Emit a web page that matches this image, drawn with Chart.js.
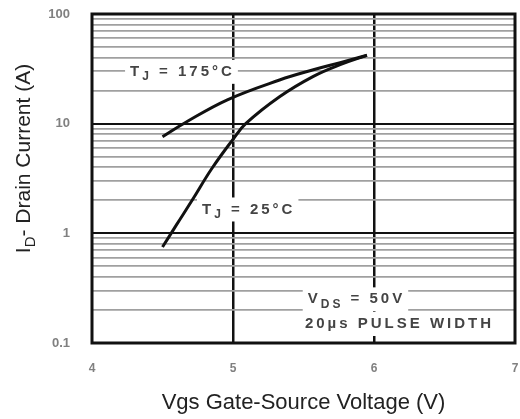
<!DOCTYPE html>
<html>
<head>
<meta charset="utf-8">
<script src="https://cdn.jsdelivr.net/npm/chart.js@4"></script>
<style>
  html, body { margin: 0; padding: 0; background: #fff; }
</style>
</head>
<body>
<canvas id="myChart" width="520" height="419"></canvas>
<script>
// Id vs Vgs
var vgs175 = [4.5, 4.66, 4.96, 5.33, 5.57, 5.76, 5.95],
    id175 = [7.6, 10.2, 16.5, 25, 31, 36, 42];
var vgs25 = [4.5, 4.6, 4.71, 4.85, 5.0, 5.09, 5.33, 5.57, 5.76, 5.95],
    id25 = [0.75, 1.2, 2.0, 3.9, 7.2, 10, 17.6, 27, 34.5, 42];

var xTicks = [4, 5, 6, 7],
    yTicks = [0.1, 1, 10, 100],
    yGrid = [0.1, 0.2, 0.3, 0.4, 0.5, 0.6, 0.7, 0.8, 0.9,
             1, 2, 3, 4, 5, 6, 7, 8, 9,
             10, 20, 30, 40, 50, 60, 70, 80, 90, 100];

const FONT = '"Liberation Sans", Arial, sans-serif';

// text labels inside the plot: [x, y] in data units
var notes = [
    { at: [4.27, 29.7], parts: [['T'], ['J', 1], [' = 175°C']] },
    { at: [4.78, 1.65], parts: [['T'], ['J', 1], [' = 25°C']] },
    { at: [5.53, 0.25], parts: [['V'], ['DS', 1], [' = 50V']] },
    { at: [5.51, 0.149], parts: [['20µs PULSE WIDTH']] }
];

function pts(xs, ys) {
    return xs.map((x, i) => ({ x: x, y: ys[i] }));
}

function drawParts(ctx, parts, x, y, size, doDraw) {
    var cx = x;
    parts.forEach(p => {
        var sub = p[1] == 1,
            fs = sub ? Math.round(size * 0.8) : size;
        ctx.font = 'bold ' + fs + 'px ' + FONT;
        if (doDraw) ctx.fillText(p[0], cx, y + (sub ? size * 0.35 : 0));
        cx += ctx.measureText(p[0]).width;
    });
    return cx - x;
}

function noPad(s) {
    s.paddingTop = 0;
    s.paddingBottom = 0;
    s.paddingLeft = 0;
    s.paddingRight = 0;
}

const notesPlugin = {
    id: 'notes',
    beforeDatasetsDraw(chart) {
        var ctx = chart.ctx, sx = chart.scales.x, sy = chart.scales.y;
        ctx.save();
        ctx.letterSpacing = '3px';
        ctx.textBaseline = 'middle';
        ctx.textAlign = 'left';
        notes.forEach(n => {
            var px = sx.getPixelForValue(n.at[0]),
                py = sy.getPixelForValue(n.at[1]);
            var w = drawParts(ctx, n.parts, px, py, 15, false);
            ctx.fillStyle = '#fff';
            ctx.fillRect(px - 5, py - 12, w + 8, 24);
        });
        ctx.fillStyle = '#444';
        notes.forEach(n => {
            var px = sx.getPixelForValue(n.at[0]),
                py = sy.getPixelForValue(n.at[1]);
            drawParts(ctx, n.parts, px, py, 15, true);
        });
        ctx.restore();
    },
    afterDraw(chart) {
        var ctx = chart.ctx, a = chart.chartArea;
        ctx.save();
        // frame
        ctx.strokeStyle = '#111';
        ctx.lineWidth = 3;
        ctx.strokeRect(a.left, a.top, a.right - a.left, a.bottom - a.top);
        // y title with subscript
        ctx.translate(30, (a.top + a.bottom) / 2 - 20);
        ctx.rotate(-Math.PI / 2);
        ctx.fillStyle = '#222';
        ctx.textBaseline = 'alphabetic';
        var parts = [['I', 0, 21], ['D', 5, 15], ['- Drain Current (A)', 0, 21]];
        var total = 0;
        parts.forEach(p => { ctx.font = p[2] + 'px ' + FONT; total += ctx.measureText(p[0]).width; });
        var cx = -total / 2;
        parts.forEach(p => {
            ctx.font = p[2] + 'px ' + FONT;
            ctx.fillText(p[0], cx, p[1]);
            cx += ctx.measureText(p[0]).width;
        });
        ctx.restore();
    }
};

var ctx = document.getElementById('myChart').getContext('2d');
var myChart = new Chart(ctx, {
    type: 'line',
    data: {
        datasets: [{
            label: 'TJ = 175°C',
            data: pts(vgs175, id175),
            borderColor: '#111',
            borderWidth: 3,
            pointRadius: 0,
            tension: 0.4
        }, {
            label: 'TJ = 25°C',
            data: pts(vgs25, id25),
            borderColor: '#111',
            borderWidth: 3,
            pointRadius: 0,
            tension: 0.4
        }]
    },
    options: {
        responsive: false,
        animation: false,
        layout: { padding: { top: 14, right: 5, left: 0, bottom: 0 } },
        plugins: {
            legend: { display: false },
            tooltip: { enabled: false }
        },
        scales: {
            x: {
                type: 'linear',
                min: 4,
                max: 7,
                afterFit: s => { s.height = 76; noPad(s); },
                afterBuildTicks: s => { s.ticks = xTicks.map(v => ({ value: v })); },
                border: { display: false },
                grid: {
                    drawTicks: false,
                    color: c => (c.tick && (c.tick.value == 5 || c.tick.value == 6)) ? '#111' : 'rgba(0,0,0,0)',
                    lineWidth: 2.5
                },
                ticks: {
                    padding: 18,
                    color: '#808080',
                    font: { family: FONT, size: 12, weight: 'bold' }
                },
                title: {
                    display: true,
                    text: 'Vgs Gate-Source Voltage (V)',
                    color: '#222',
                    font: { family: FONT, size: 22 },
                    padding: { top: 0, bottom: 3 }
                }
            },
            y: {
                type: 'logarithmic',
                min: 0.1,
                max: 100,
                afterFit: s => { s.width = 92; noPad(s); },
                afterBuildTicks: s => { s.ticks = yGrid.map(v => ({ value: v })); },
                border: { display: false },
                grid: {
                    drawTicks: false,
                    color: c => (c.tick && yTicks.indexOf(c.tick.value) >= 0) ? '#111' : '#a0a0a0',
                    lineWidth: c => (c.tick && yTicks.indexOf(c.tick.value) >= 0) ? 2 : 1.8
                },
                ticks: {
                    padding: 22,
                    color: '#808080',
                    autoSkip: false,
                    font: { family: FONT, size: 13, weight: 'bold' },
                    callback: v => yTicks.indexOf(v) >= 0 ? String(v) : ''
                }
            }
        }
    },
    plugins: [notesPlugin]
});
</script>
</body>
</html>
